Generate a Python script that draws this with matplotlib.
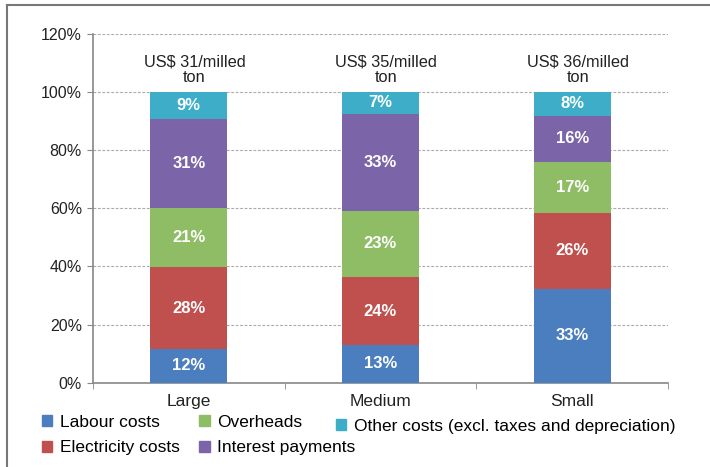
import matplotlib
matplotlib.use('Agg')
import matplotlib.pyplot as plt
from matplotlib.lines import Line2D
from matplotlib.patches import Patch

plt.rcParams['font.family'] = ['Liberation Sans', 'DejaVu Sans']

# Данные
categories = ['Large', 'Medium', 'Small']
series = ['Labour costs', 'Electricity costs', 'Overheads', 'Interest payments',
          'Other costs (excl. taxes and depreciation)']
labour = [11.6, 12.9, 32.4]
electricity = [28.1, 23.5, 26.0]
overheads = [20.3, 22.7, 17.7]
interest = [30.9, 33.5, 15.8]
other = [9.1, 7.4, 8.1]
# подписи на сегментах (как в оригинале)
labour_lbl = ['12%', '13%', '33%']
electricity_lbl = ['28%', '24%', '26%']
overheads_lbl = ['21%', '23%', '17%']
interest_lbl = ['31%', '33%', '16%']
other_lbl = ['9%', '7%', '8%']
cost_lbl = ['US$ 31/milled\nton', 'US$ 35/milled\nton', 'US$ 36/milled\nton']

colors = ['#4a7ebf', '#c0504d', '#8fbd65', '#7b65a8', '#3eadc8']

fig = plt.figure(figsize=(7.1, 4.67), dpi=100)
ax = fig.add_axes([93 / 710, 1 - 382.7 / 467, (668 - 93) / 710, (382.7 - 34) / 467])

x = list(range(len(categories)))
values = [labour, electricity, overheads, interest, other]
labels = [labour_lbl, electricity_lbl, overheads_lbl, interest_lbl, other_lbl]
bottom = [0.0] * len(categories)
for vals, lbls, col, name in zip(values, labels, colors, series):
    ax.bar(x, vals, 0.4, bottom=bottom, color=col, label=name, zorder=3)
    for xi, b, v, t in zip(x, bottom, vals, lbls):
        ax.text(xi, b + v / 2, t, ha='center', va='center', color='white',
                fontsize=12, fontweight='bold', zorder=4)
    bottom = [b + v for b, v in zip(bottom, vals)]

for xi, t in zip(x, cost_lbl):
    ax.text(xi + 0.03, 107.6, t, ha='center', va='center', fontsize=11.8,
            linespacing=1.02, color='#222222')

ax.set_xlim(-0.5, 2.5)
ax.set_ylim(0, 120)
ax.set_yticks(range(0, 121, 20))
ax.set_yticklabels([f'{v}%' for v in range(0, 121, 20)], fontsize=11.5, color='#222222')
ax.yaxis.grid(True, linestyle=(0, (2.5, 1.5)), color='#aaaaaa', linewidth=0.8, zorder=0)

ax.set_xticks(x)
ax.set_xticklabels(categories, fontsize=12.5, color='#222222')
ax.set_xticks([-0.5, 0.5, 1.5, 2.5], minor=True)
ax.tick_params(axis='x', which='major', length=0, pad=8)
ax.tick_params(axis='x', which='minor', length=4, direction='out', color='#888888')
ax.tick_params(axis='y', length=4, color='#888888', pad=4)

for s in ['top', 'right']:
    ax.spines[s].set_visible(False)
for s in ['left', 'bottom']:
    ax.spines[s].set_color('#888888')
    ax.spines[s].set_linewidth(1.2)

# легенда: 4 элемента в две колонки + отдельно "Other costs"
handles = [Patch(color=c) for c in colors]
leg_kw = dict(frameon=False, fontsize=12.5, handlelength=0.6, handleheight=0.6,
              handletextpad=0.45, borderaxespad=0, borderpad=0)
leg1 = fig.legend(handles[:4], series[:4], ncol=2, loc='upper left',
                  bbox_to_anchor=(42 / 710, 1 - 415 / 467), columnspacing=1.1,
                  labelspacing=0.6, **leg_kw)
leg2 = fig.legend(handles[4:], series[4:], loc='upper left',
                  bbox_to_anchor=(336 / 710, 1 - 419 / 467), **leg_kw)

# рамка вокруг рисунка (слева и сверху)
fig.add_artist(Line2D([7 / 710, 7 / 710], [0, 1 - 5 / 467], color='#777777', linewidth=1.5))
fig.add_artist(Line2D([7 / 710, 1], [1 - 5 / 467, 1 - 5 / 467], color='#777777', linewidth=1.5))

fig.savefig('out.png', dpi=100)
